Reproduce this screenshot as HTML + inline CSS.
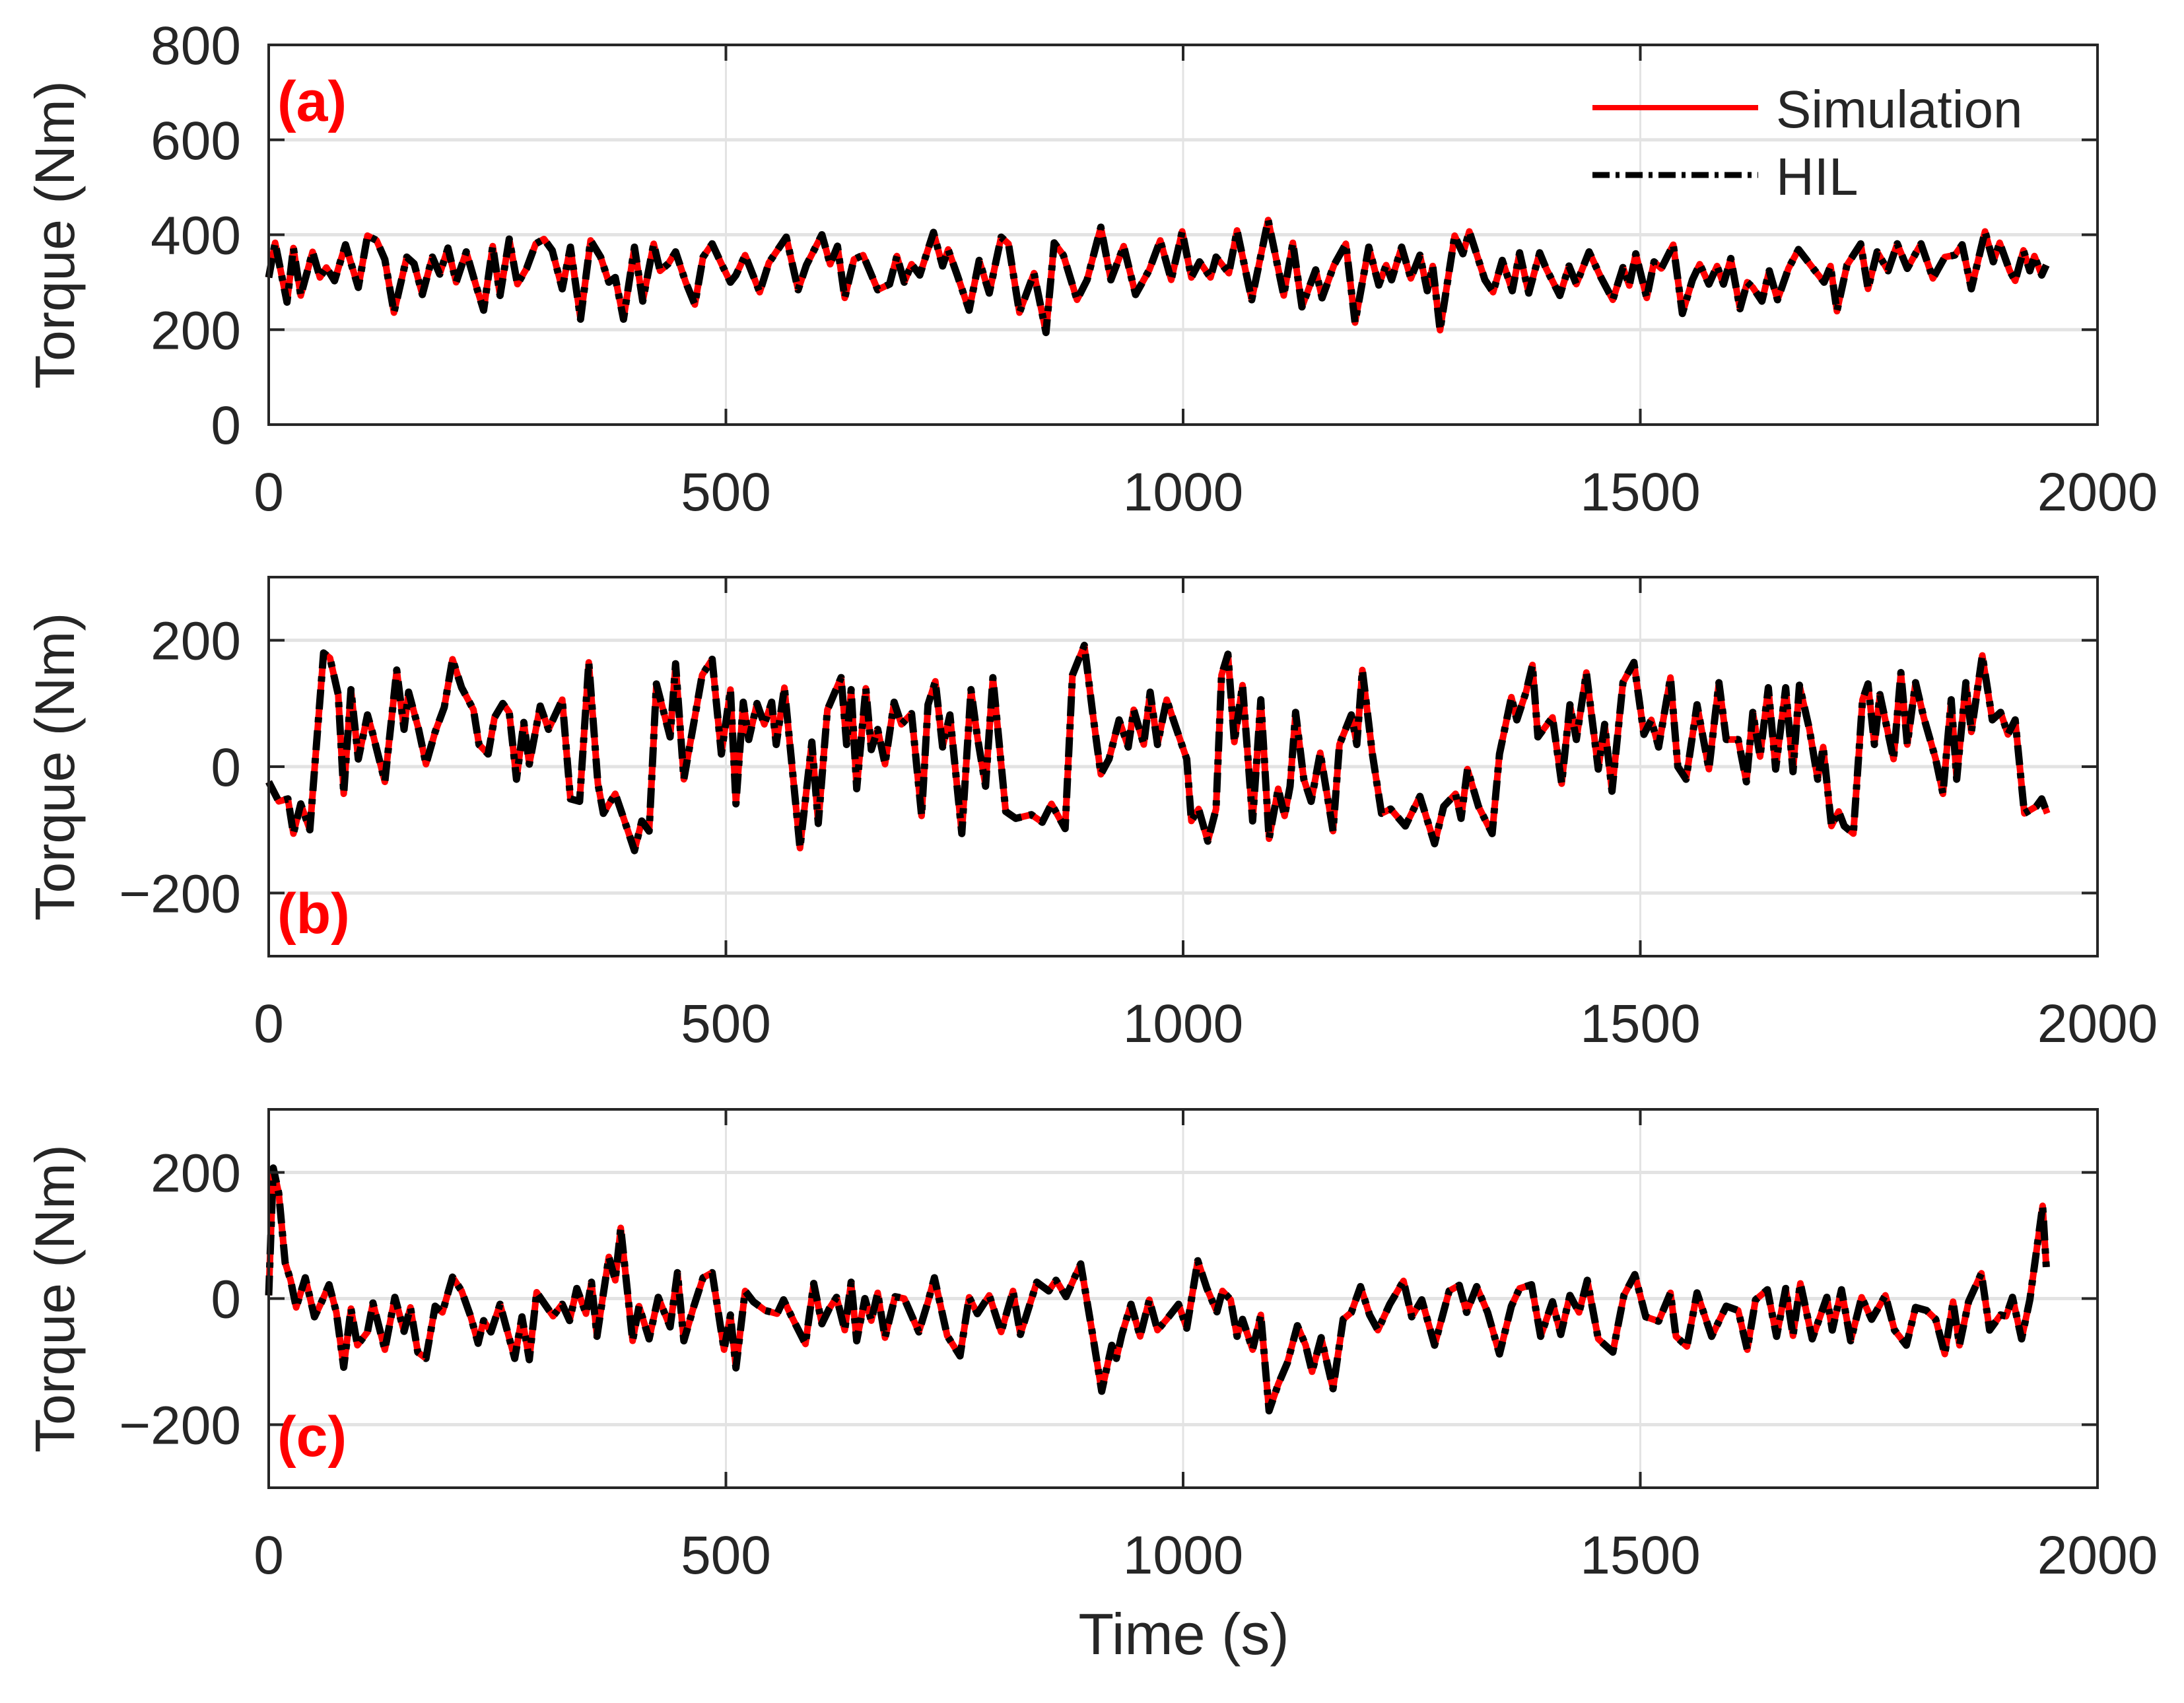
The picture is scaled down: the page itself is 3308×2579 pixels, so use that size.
<!DOCTYPE html>
<html><head><meta charset="utf-8">
<style>
html,body{margin:0;padding:0;background:#fff;}
svg{display:block;font-family:"Liberation Sans",sans-serif;}
</style></head>
<body>
<svg id="fig" width="3308" height="2579" viewBox="0 0 3308 2579" xmlns="http://www.w3.org/2000/svg"></svg>
<script>
const xTicks=[0,500,1000,1500,2000];
const aTicks=[0,200,400,600,800];
const bTicks=[-200,0,200];
const cTicks=[-200,0,200];
const aTime=[0,7,20,27,35,48,56,63,72,84,98,108,118,127,137,151,159,168,179,187,196,205,216,227,235,245,253,263,272,282,292,301,310,321,330,341,352,363,372,379,388,400,409,421,428,437,445,456,466,475,485,495,505,511,521,537,547,566,579,588,605,614,622,630,640,650,666,679,687,695,703,712,727,737,743,753,766,777,788,801,809,821,837,850,859,869,884,895,910,921,935,948,963,975,987,999,1009,1018,1030,1036,1050,1059,1075,1093,1110,1120,1130,1145,1152,1165,1178,1188,1203,1214,1222,1228,1239,1249,1259,1267,1273,1281,1297,1306,1313,1330,1339,1349,1360,1368,1378,1390,1397,1412,1422,1430,1444,1457,1470,1481,1488,1495,1507,1515,1523,1536,1546,1557,1565,1575,1584,1591,1599,1609,1617,1623,1633,1641,1650,1662,1673,1689,1701,1708,1715,1726,1741,1749,1759,1771,1781,1792,1807,1820,1833,1844,1852,1862,1877,1886,1893,1904,1910,1919,1926,1931,1939,1944];
const aVals=[310,383,258,372,272,364,310,331,303,379,289,398,388,348,236,353,339,274,353,317,372,300,364,291,241,376,272,391,296,329,381,391,367,286,374,222,388,353,300,310,222,374,260,381,324,339,364,300,253,353,381,339,300,315,357,279,341,395,284,336,400,338,376,267,348,357,284,296,355,300,338,315,405,334,369,315,241,346,277,395,381,236,319,194,383,357,263,305,416,305,376,274,326,388,305,407,310,343,310,353,319,409,263,431,272,383,248,326,267,336,381,215,374,294,336,305,374,308,357,282,334,199,398,360,407,305,279,346,282,362,277,362,329,272,334,296,364,310,263,331,293,360,267,343,329,379,234,305,338,296,334,296,350,244,300,289,260,324,263,329,369,329,300,334,239,336,381,286,364,324,381,329,381,308,353,357,379,286,407,343,383,324,303,367,324,355,315,336];
const bTime=[0,11,21,27,35,45,60,67,76,82,90,98,108,114,127,140,148,153,164,172,182,192,201,211,224,230,240,247,256,263,271,279,285,297,306,321,330,340,350,360,366,379,392,400,408,416,424,439,445,454,465,474,485,495,505,511,519,525,534,542,550,555,564,581,594,601,611,626,632,637,643,653,659,666,674,684,692,703,714,721,729,737,745,758,768,775,784,792,806,817,834,846,856,871,879,892,901,910,919,930,940,946,957,964,972,982,991,1004,1009,1017,1027,1036,1042,1049,1056,1065,1076,1085,1094,1104,1111,1117,1123,1132,1140,1150,1164,1171,1184,1190,1196,1207,1217,1227,1243,1259,1275,1285,1298,1304,1311,1323,1338,1346,1359,1365,1375,1382,1388,1394,1404,1414,1423,1430,1441,1454,1461,1469,1481,1493,1504,1512,1520,1533,1541,1550,1562,1575,1586,1594,1607,1616,1623,1631,1640,1648,1659,1667,1674,1685,1694,1700,1709,1717,1723,1733,1743,1749,1756,1762,1777,1785,1792,1801,1810,1823,1831,1840,1846,1856,1862,1874,1885,1894,1902,1910,1920,1933,1939,1945];
const bVals=[-24,-55,-51,-106,-59,-100,180,172,114,-43,122,12,82,51,-24,153,59,118,59,4,55,94,170,125,90,35,20,78,100,86,-20,70,4,96,59,106,-51,-55,165,-27,-74,-43,-98,-133,-86,-102,131,47,163,-20,70,145,170,20,122,-59,102,43,100,67,102,35,125,-129,39,-90,90,141,35,122,-35,124,27,59,4,102,67,84,-78,98,135,31,82,-106,122,47,-31,141,-71,-82,-76,-88,-59,-98,145,192,86,-12,12,74,31,90,35,118,35,106,67,12,-86,-67,-118,-67,145,178,39,129,-86,106,-114,-35,-78,-31,86,-20,-55,22,-102,35,82,35,153,20,-74,-67,-94,-47,-122,-63,-43,-82,-4,-63,-106,20,110,74,118,161,47,59,78,-27,98,43,149,-4,67,-39,133,165,51,74,31,141,0,-20,98,-4,133,43,43,-24,86,16,125,-4,125,-8,129,59,-20,31,-94,-71,-94,-106,106,131,35,114,12,149,35,133,78,12,-43,106,-20,133,55,176,74,86,51,74,-74,-63,-51,-74];
const cTime=[0,5,11,18,24,30,40,50,58,66,74,82,90,97,108,114,127,138,148,155,163,172,182,190,201,211,221,229,235,243,253,269,277,285,293,311,321,329,337,347,353,359,372,379,385,398,405,416,426,439,447,454,465,475,485,498,505,511,521,530,543,556,563,572,587,596,605,613,621,630,637,643,652,659,666,674,685,695,711,721,728,742,756,766,775,788,801,814,822,840,853,861,872,888,901,911,922,927,933,943,953,963,972,982,995,1004,1016,1026,1037,1043,1052,1059,1065,1076,1085,1094,1104,1114,1125,1134,1141,1151,1164,1175,1184,1194,1204,1213,1226,1241,1250,1261,1275,1291,1302,1310,1321,1333,1346,1359,1368,1381,1391,1404,1413,1423,1433,1442,1454,1470,1482,1494,1506,1520,1533,1539,1551,1562,1578,1594,1607,1617,1626,1639,1649,1659,1667,1675,1688,1704,1710,1720,1730,1742,1753,1768,1778,1791,1801,1813,1823,1833,1842,1849,1859,1873,1882,1894,1900,1907,1917,1926,1940,1944];
const cVals=[5,207,167,57,29,-14,33,-29,-5,22,-22,-109,-16,-74,-53,-7,-81,2,-52,-14,-85,-95,-12,-22,34,12,-29,-71,-35,-53,-9,-95,-29,-97,10,-28,-9,-35,16,-24,26,-60,66,29,112,-67,-12,-64,2,-45,41,-67,-12,33,41,-81,-26,-110,12,-5,-19,-24,-2,-29,-72,24,-40,-16,2,-50,26,-67,0,-35,9,-62,3,0,-53,-5,33,-59,-91,2,-24,5,-53,12,-57,26,12,29,3,55,-57,-147,-74,-95,-57,-9,-60,-2,-50,-33,-9,-47,60,16,-21,12,-2,-60,-33,-81,-26,-178,-136,-102,-43,-74,-116,-62,-143,-33,-22,19,-26,-50,-9,28,-29,-2,-74,12,21,-22,19,-22,-88,-12,16,22,-60,-5,-57,5,-22,29,-64,-85,5,38,-29,-36,9,-60,-76,9,-60,-12,-19,-81,-2,14,-60,16,-59,24,-64,2,-50,14,-67,2,-33,5,-50,-74,-14,-19,-33,-88,-5,-74,-5,40,-50,-26,-28,2,-64,-2,147,50];

const NS="http://www.w3.org/2000/svg";
const svg=document.getElementById('fig');
const X0=407,X1=3177;
function xs(t){return X0+(t-0)/(2000)*(X1-X0);}
function mk(tag,attrs,parent){const e=document.createElementNS(NS,tag);for(const k in attrs)e.setAttribute(k,attrs[k]);(parent||svg).appendChild(e);return e;}

const panels=[
 {key:'a',top:68,bot:643,min:0,max:800,ticks:aTicks,t:aTime,v:aVals,label:'(a)',ly:183,fmt:v=>String(v)},
 {key:'b',top:874,bot:1448,min:-300,max:300,ticks:bTicks,t:bTime,v:bVals,label:'(b)',ly:1413,fmt:v=>v<0?'\u2212'+(-v):String(v)},
 {key:'c',top:1680,bot:2253,min:-300,max:300,ticks:cTicks,t:cTime,v:cVals,label:'(c)',ly:2205,fmt:v=>v<0?'\u2212'+(-v):String(v)}
];

panels.forEach(p=>{
  const ys=v=>p.bot-(v-p.min)/(p.max-p.min)*(p.bot-p.top);
  const g=mk('g',{});
  
  
  xTicks.forEach(t=>{
    const l=mk('line',{x1:xs(t),x2:xs(t),y1:p.top,y2:p.bot,stroke:'#e3e3e3','stroke-width':3},g);
    
    
  });
  p.ticks.forEach(v=>{
    const l=mk('line',{x1:X0,x2:X1,y1:ys(v),y2:ys(v),stroke:'#e3e3e3','stroke-width':5},g);
    
    
  });
  let d='';
  p.t.forEach((t,i)=>{d+=(i?'L':'M')+xs(t).toFixed(1)+' '+ys(p.v[i]).toFixed(1);});
  const sim=mk('path',{d:d,fill:'none',stroke:'#ff0000','stroke-width':10,'stroke-linejoin':'round'},g);
  
  
  const hil=mk('path',{d:d,fill:'none',stroke:'#000','stroke-width':11,'stroke-dasharray':'30 12 8 12','stroke-linejoin':'round','stroke-linecap':'butt'},g);
  
  
  const box=mk('rect',{x:X0,y:p.top,width:X1-X0,height:p.bot-p.top,fill:'none',stroke:'#262626','stroke-width':4},g);
  
  
  xTicks.forEach(t=>{
    mk('line',{x1:xs(t),x2:xs(t),y1:p.bot,y2:p.bot-24,stroke:'#262626','stroke-width':4},g);
    mk('line',{x1:xs(t),x2:xs(t),y1:p.top,y2:p.top+24,stroke:'#262626','stroke-width':4},g);
    const tx=mk('text',{x:xs(t),y:p.bot+130,'font-size':82,fill:'#262626','text-anchor':'middle'},g);
    tx.textContent=String(t);
    
    
  });
  p.ticks.forEach(v=>{
    mk('line',{x1:X0,x2:X0+24,y1:ys(v),y2:ys(v),stroke:'#262626','stroke-width':4},g);
    mk('line',{x1:X1,x2:X1-24,y1:ys(v),y2:ys(v),stroke:'#262626','stroke-width':4},g);
    const ty=mk('text',{x:365,y:ys(v)+29,'font-size':82,fill:'#262626','text-anchor':'end'},g);
    ty.textContent=p.fmt(v);
    
    
  });
  const yc=(p.top+p.bot)/2;
  const yl=mk('text',{x:0,y:0,'font-size':84,fill:'#262626','text-anchor':'middle',transform:'translate(112,'+yc+') rotate(-90)'},g);
  yl.textContent='Torque (Nm)';
  
  
  const pl=mk('text',{x:420,y:p.ly,'font-size':86,'font-weight':'bold',fill:'#ff0000'},g);
  pl.textContent=p.label;
  
  
});

const lg=mk('g',{});


mk('line',{x1:2412,x2:2663,y1:163,y2:163,stroke:'#ff0000','stroke-width':8},lg);
const l1=mk('text',{x:2690,y:193,'font-size':80,fill:'#262626'},lg);
l1.textContent='Simulation';


mk('line',{x1:2412,x2:2663,y1:265,y2:265,stroke:'#000','stroke-width':9,'stroke-dasharray':'26 9 6 9'},lg);
const l2=mk('text',{x:2690,y:295,'font-size':80,fill:'#262626'},lg);
l2.textContent='HIL';



const xt=mk('text',{x:1793,y:2505,'font-size':88,fill:'#262626','text-anchor':'middle'});
xt.textContent='Time (s)';


</script>
</body></html>
